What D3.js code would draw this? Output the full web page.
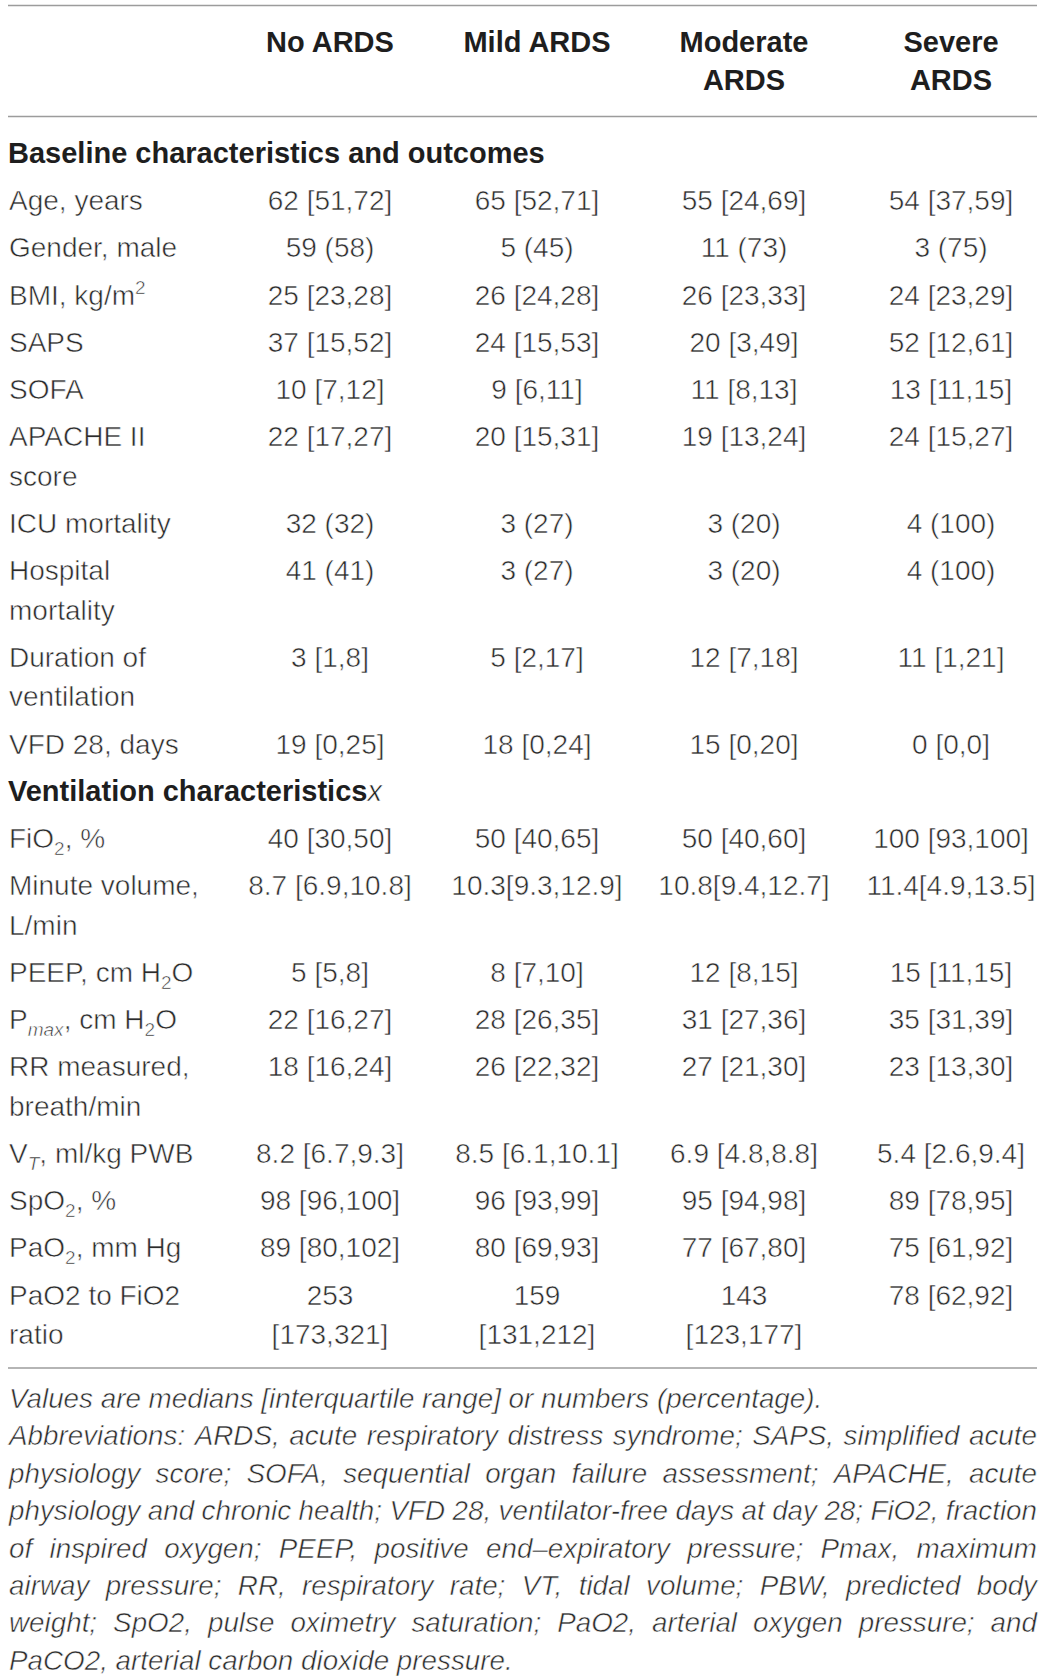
<!DOCTYPE html>
<html>
<head>
<meta charset="utf-8">
<script src="https://cdn.jsdelivr.net/npm/d3@7"></script>
<style>
  body { margin: 0; background: #fff; }
  .light { stroke: #fff; stroke-width: 0.55px; paint-order: normal; }
</style>
</head>
<body>
<div id="table"></div>
<script>
// Column groups and header text (\n = line break as printed)
const groups = ['No ARDS', 'Mild ARDS', 'Moderate ARDS', 'Severe ARDS'];
const groupHeads = ['No ARDS', 'Mild ARDS', 'Moderate\nARDS', 'Severe\nARDS'];

// Row labels; _{} sub, ^{} sup, _i{} italic sub, *{} italic
const rowLabels = [
  'Baseline characteristics and outcomes',
  'Age, years',
  'Gender, male',
  'BMI, kg/m^{2}',
  'SAPS',
  'SOFA',
  'APACHE II\nscore',
  'ICU mortality',
  'Hospital\nmortality',
  'Duration of\nventilation',
  'VFD 28, days',
  'Ventilation characteristics*{x}',
  'FiO_{2}, %',
  'Minute volume,\nL/min',
  'PEEP, cm H_{2}O',
  'P_i{max}, cm H_{2}O',
  'RR measured,\nbreath/min',
  'V_i{T}, ml/kg PWB',
  'SpO_{2}, %',
  'PaO_{2}, mm Hg',
  'PaO2 to FiO2\nratio',
];

// null marks a section heading row
const noArds = [null, '62 [51,72]', '59 (58)', '25 [23,28]', '37 [15,52]', '10 [7,12]', '22 [17,27]',
  '32 (32)', '41 (41)', '3 [1,8]', '19 [0,25]', null, '40 [30,50]', '8.7 [6.9,10.8]', '5 [5,8]',
  '22 [16,27]', '18 [16,24]', '8.2 [6.7,9.3]', '98 [96,100]', '89 [80,102]', '253\n[173,321]'];
const mildArds = [null, '65 [52,71]', '5 (45)', '26 [24,28]', '24 [15,53]', '9 [6,11]', '20 [15,31]',
  '3 (27)', '3 (27)', '5 [2,17]', '18 [0,24]', null, '50 [40,65]', '10.3[9.3,12.9]', '8 [7,10]',
  '28 [26,35]', '26 [22,32]', '8.5 [6.1,10.1]', '96 [93,99]', '80 [69,93]', '159\n[131,212]'];
const moderateArds = [null, '55 [24,69]', '11 (73)', '26 [23,33]', '20 [3,49]', '11 [8,13]', '19 [13,24]',
  '3 (20)', '3 (20)', '12 [7,18]', '15 [0,20]', null, '50 [40,60]', '10.8[9.4,12.7]', '12 [8,15]',
  '31 [27,36]', '27 [21,30]', '6.9 [4.8,8.8]', '95 [94,98]', '77 [67,80]', '143\n[123,177]'];
const severeArds = [null, '54 [37,59]', '3 (75)', '24 [23,29]', '52 [12,61]', '13 [11,15]', '24 [15,27]',
  '4 (100)', '4 (100)', '11 [1,21]', '0 [0,0]', null, '100 [93,100]', '11.4[4.9,13.5]', '15 [11,15]',
  '35 [31,39]', '23 [13,30]', '5.4 [2.6,9.4]', '89 [78,95]', '75 [61,92]', '78 [62,92]'];

const notes = [
  'Values are medians [interquartile range] or numbers (percentage).',
  'Abbreviations: ARDS, acute respiratory distress syndrome; SAPS, simplified acute',
  'physiology score; SOFA, sequential organ failure assessment; APACHE, acute',
  'physiology and chronic health; VFD 28, ventilator-free days at day 28; FiO2, fraction',
  'of inspired oxygen; PEEP, positive end\u2013expiratory pressure; Pmax, maximum',
  'airway pressure; RR, respiratory rate; VT, tidal volume; PBW, predicted body',
  'weight; SpO2, pulse oximetry saturation; PaO2, arterial oxygen pressure; and',
  'PaCO2, arterial carbon dioxide pressure.',
];
const justified = [false, true, true, true, true, true, true, false];

const columns = [noArds, mildArds, moderateArds, severeArds];

const W = 1045;
const H = 1680;
const left = 9;
const right = 1037;
const font = "'Liberation Sans', Arial, Helvetica, sans-serif";
const ink = '#2b2b2b';
const rule = '#9c9c9c';
const bodySize = 28;
const boldSize = 29;
const rowStep = 47.2;
const wrapStep = 39.5;

const svg = d3.select('#table')
  .append('svg')
  .attr('width', W)
  .attr('height', H)
  .attr('viewBox', [0, 0, W, H])
  .style('font-family', font)
  .style('fill', ink);

const x = d3.scalePoint().domain(groups).range([330, 951]);

// small markup -> tspans
const writeRich = (sel, str) => {
  const re = /(_i|_|\^|\*)\{([^}]*)\}/g;
  const parts = [];
  let last = 0;
  let m;
  while ((m = re.exec(str))) {
    if (m.index > last) parts.push({ t: str.slice(last, m.index) });
    parts.push({ t: m[2], k: m[1] });
    last = re.lastIndex;
  }
  if (last < str.length) parts.push({ t: str.slice(last) });
  let shift = 0;
  parts.forEach((p) => {
    const ts = sel.append('tspan').text(p.t);
    let want = 0;
    if (p.k === '_' || p.k === '_i') want = 7;
    if (p.k === '^') want = -11;
    if (want !== shift) ts.attr('dy', want - shift);
    shift = want;
    if (p.k && p.k !== '*') ts.attr('font-size', '0.68em');
    if (p.k === '_i' || p.k === '*') ts.attr('font-style', 'italic');
  });
};

// horizontal rules
svg.selectAll('line.rule')
  .data([5.5, 116.5, 1368])
  .enter()
  .append('line')
  .attr('class', 'rule')
  .attr('x1', 8)
  .attr('x2', right)
  .attr('y1', (d) => d)
  .attr('y2', (d) => d)
  .attr('stroke', rule)
  .attr('stroke-width', 1.6);

// header
groupHeads.forEach((h, gi) => {
  h.split('\n').forEach((line, k) => {
    svg.append('text')
      .attr('x', x(groups[gi]))
      .attr('y', 52 + k * 38)
      .attr('text-anchor', 'middle')
      .attr('font-size', boldSize)
      .attr('font-weight', 'bold')
      .style('fill', '#1e1e1e')
      .text(line);
  });
});

// row positions
let yy = 163;
const rows = rowLabels.map((label, i) => {
  const lines = Math.max(
    label.split('\n').length,
    ...columns.map((c) => (c[i] ? c[i].split('\n').length : 1)),
  );
  const r = { label, i, y: yy, section: noArds[i] === null };
  yy += rowStep + (lines - 1) * wrapStep;
  return r;
});

rows.forEach((r) => {
  r.label.split('\n').forEach((line, k) => {
    const t = svg.append('text')
      .attr('x', r.section ? 8 : left)
      .attr('y', r.y + k * wrapStep)
      .attr('font-size', r.section ? boldSize : bodySize);
    if (r.section) t.attr('font-weight', 'bold').style('fill', '#1e1e1e');
    else t.attr('class', 'light');
    writeRich(t, line);
    if (r.section) t.selectAll('tspan[font-style]').attr('font-weight', 'normal').attr('class', 'light');
  });
  if (r.section) return;
  columns.forEach((col, gi) => {
    col[r.i].split('\n').forEach((line, k) => {
      svg.append('text')
        .attr('class', 'light')
        .attr('x', x(groups[gi]))
        .attr('y', r.y + k * wrapStep)
        .attr('text-anchor', 'middle')
        .attr('font-size', bodySize)
        .text(line);
    });
  });
});

// footnote, justified like the print
const noteSize = 27.8;
const noteTop = 1408;
const noteStep = 37.4;
notes.forEach((line, k) => {
  const t = svg.append('text')
    .attr('class', 'light')
    .attr('y', noteTop + k * noteStep)
    .attr('font-size', noteSize)
    .attr('font-style', 'italic');
  if (!justified[k]) {
    t.attr('x', left).text(line);
    return;
  }
  const words = line.split(' ');
  const spans = words.map((w) => t.append('tspan').text(w));
  const widths = spans.map((s) => s.node().getComputedTextLength());
  const gap = (right - left - d3.sum(widths)) / (words.length - 1);
  let cx = left;
  spans.forEach((s, j) => {
    s.attr('x', cx);
    cx += widths[j] + gap;
  });
});
</script>
</body>
</html>
